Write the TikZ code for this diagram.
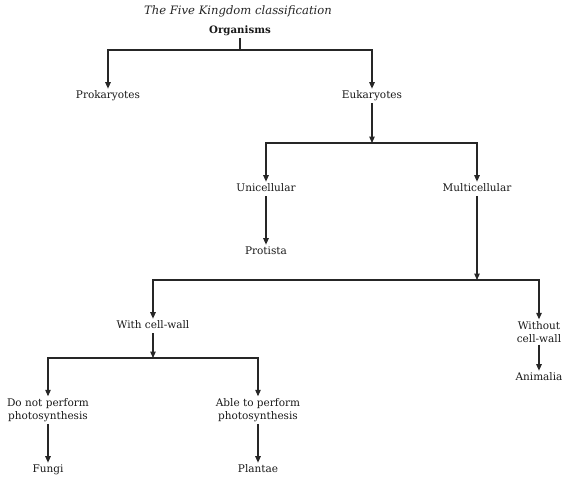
\documentclass[tikz,border=0pt]{standalone}
\usepackage{fontspec}
\setmainfont{DejaVu Serif}
\usetikzlibrary{arrows.meta}
\begin{document}
\begin{tikzpicture}[x=1pt,y=-1pt,
  lbl/.style={font=\fontsize{10.5}{12.8}\selectfont, inner sep=2pt, text height=7.8pt, text depth=2.5pt, text=black!90},
  lbl2/.style={font=\fontsize{10.5}{12.8}\selectfont, inner sep=2pt, align=center, text=black!90},
  con/.style={line width=1.1pt, black!85},
  arr/.style={con, -{Triangle[width=5.5pt,length=6.5pt]}}]
\useasboundingbox (0,0) rectangle (567,480);
\node[font=\itshape\fontsize{11.6}{13}\selectfont, text=black!85] (title) at (238,11) {The Five Kingdom classification};
\node[lbl, font=\bfseries\fontsize{10.2}{12.5}\selectfont] (org) at (240,31) {Organisms};
\node[lbl] (prok) at (108,96) {Prokaryotes};
\node[lbl] (euk) at (372,96) {Eukaryotes};
\node[lbl] (uni) at (266,189) {Unicellular};
\node[lbl] (multi) at (477,189) {Multicellular};
\node[lbl] (prot) at (266,252) {Protista};
\node[lbl] (withcw) at (153,326) {With cell-wall};
\node[lbl2] (without) at (539,332) {Without\\cell-wall};
\node[lbl2] (donot) at (48,410) {Do not perform\\photosynthesis};
\node[lbl2] (able) at (258,410) {Able to perform\\photosynthesis};
\node[lbl] (fungi) at (48,470) {Fungi};
\node[lbl] (plantae) at (258,470) {Plantae};
\node[lbl] (anim) at (539,378) {Animalia};
\coordinate (j1) at (240,50);
\coordinate (j2) at (372,143);
\coordinate (j3) at (477,280);
\coordinate (j4) at (153,358);
\draw[con] (org) -- (j1);
\draw[arr] (j1) -| (prok);
\draw[arr] (j1) -| (euk);
\draw[arr] (euk) -- (j2);
\draw[arr] (j2) -| (uni);
\draw[arr] (j2) -| (multi);
\draw[arr] (uni) -- (prot);
\draw[arr] (multi) -- (j3);
\draw[arr] (j3) -| (withcw);
\draw[arr] (j3) -| (without);
\draw[arr] (withcw) -- (j4);
\draw[arr] (j4) -| (donot);
\draw[arr] (j4) -| (able);
\draw[arr] (donot) -- (fungi);
\draw[arr] (able) -- (plantae);
\draw[arr] (without) -- (anim);
\end{tikzpicture}
\end{document}
